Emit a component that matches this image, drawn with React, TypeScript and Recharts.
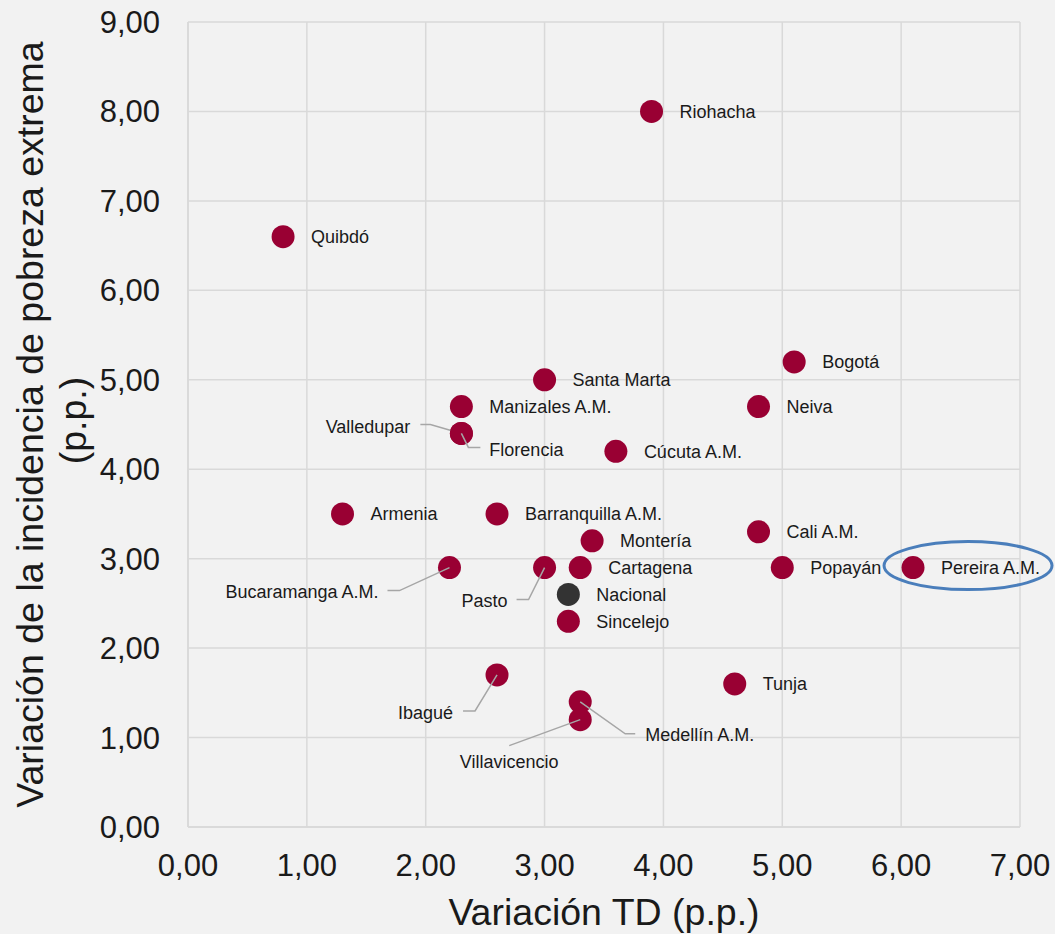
import { ScatterChart, Scatter, XAxis, YAxis, CartesianGrid } from 'recharts';

const cities = [
  'Riohacha', 'Quibdó', 'Bogotá', 'Santa Marta', 'Manizales A.M.', 'Neiva',
  'Valledupar', 'Florencia', 'Cúcuta A.M.', 'Armenia', 'Barranquilla A.M.',
  'Cali A.M.', 'Montería', 'Bucaramanga A.M.', 'Pasto', 'Cartagena', 'Popayán',
  'Pereira A.M.', 'Sincelejo', 'Ibagué', 'Tunja', 'Medellín A.M.', 'Villavicencio',
];
const tdVariation = [3.9, 0.8, 5.1, 3.0, 2.3, 4.8, 2.3, 2.3, 3.6, 1.3, 2.6, 4.8, 3.4, 2.2, 3.0, 3.3, 5.0, 6.1, 3.2, 2.6, 4.6, 3.3, 3.3];
const povertyVariation = [8.0, 6.6, 5.2, 5.0, 4.7, 4.7, 4.4, 4.4, 4.2, 3.5, 3.5, 3.3, 3.2, 2.9, 2.9, 2.9, 2.9, 2.9, 2.3, 1.7, 1.6, 1.4, 1.2];

const nationalName = ['Nacional'];
const nationalTd = [3.2];
const nationalPoverty = [2.6];

const xTicks = [0, 1, 2, 3, 4, 5, 6, 7];
const yTicks = [0, 1, 2, 3, 4, 5, 6, 7, 8, 9];

const cityData = cities.map((name, i) => ({ name, x: tdVariation[i], y: povertyVariation[i] }));
const nationalData = nationalName.map((name, i) => ({ name, x: nationalTd[i], y: nationalPoverty[i] }));

// label placement relative to each point (default: right of the marker)
const labelPlacement = {
  Valledupar: { dx: -51, dy: -7, anchor: 'end', line: [[-41, -9], [-31, -9], [0, 0]] },
  Florencia: { dx: 28, dy: 16, anchor: 'start', line: [[0, 0], [7, 14], [19, 14]] },
  'Bucaramanga A.M.': { dx: -71, dy: 24, anchor: 'end', line: [[-62, 23], [-50, 23], [0, 0]] },
  Pasto: { dx: -37, dy: 33, anchor: 'end', line: [[-28, 32], [-16, 32], [0, 0]] },
  'Ibagué': { dx: -44, dy: 38, anchor: 'end', line: [[-34, 36], [-22, 36], [0, 0]] },
  Villavicencio: { dx: -71, dy: 42, anchor: 'middle', line: [[-71, 26], [0, 0]] },
  'Medellín A.M.': { dx: 65, dy: 33, anchor: 'start', line: [[0, 0], [45, 32], [55, 32]] },
};

const FONT = '"Liberation Sans", Arial, sans-serif';

const makeShape = (fill: string) => (props: any) => {
  const { cx, cy, payload } = props;
  const p = labelPlacement[payload.name] || { dx: 28, dy: 0, anchor: 'start' };
  return (
    <g>
      <circle cx={cx} cy={cy} r={11.5} fill={fill} />
      {p.line && (
        <polyline
          points={p.line.map(([a, b]) => `${cx + a},${cy + b}`).join(' ')}
          fill="none"
          stroke="#a6a6a6"
          strokeWidth={1.5}
        />
      )}
      {payload.name === 'Pereira A.M.' && (
        <ellipse cx={cx + 55} cy={cy - 2} rx={84} ry={24} fill="none" stroke="#4a7ebb" strokeWidth={3} />
      )}
      <text
        x={cx + p.dx}
        y={cy + p.dy}
        dy="0.35em"
        textAnchor={p.anchor}
        fontSize={18}
        fontFamily={FONT}
        fill="#1a1a1a"
      >
        {payload.name}
      </text>
    </g>
  );
};

const fmt = (v: number) => v.toFixed(2).replace('.', ',');

const YTitle = ({ viewBox }: any) => {
  const cy = viewBox.y + viewBox.height / 2;
  return (
    <g fontFamily={FONT} fontSize={37.5} fill="#1a1a1a">
      <text x={43} y={cy} textAnchor="middle" transform={`rotate(-90, 43, ${cy})`}>
        Variación de la incidencia de pobreza extrema
      </text>
      <text x={86} y={cy - 4} textAnchor="middle" transform={`rotate(-90, 86, ${cy - 4})`}>
        (p.p.)
      </text>
    </g>
  );
};

const XTitle = ({ viewBox }: any) => (
  <text
    x={viewBox.x + viewBox.width / 2}
    y={viewBox.y + 98}
    textAnchor="middle"
    fontFamily={FONT}
    fontSize={37.5}
    fill="#1a1a1a"
  >
    Variación TD (p.p.)
  </text>
);

export default function App() {
  return (
    <div style={{ position: 'absolute', left: 0, top: 0, width: 1055, height: 934, background: '#f2f2f2' }}>
      <ScatterChart width={1055} height={934} margin={{ top: 22, right: 35, bottom: 0, left: 0 }}>
        <CartesianGrid stroke="#d9d9d9" strokeWidth={1.5} />
        <XAxis
          type="number"
          dataKey="x"
          domain={[0, 7]}
          ticks={xTicks}
          tickFormatter={fmt}
          height={107}
          axisLine={{ stroke: '#d9d9d9', strokeWidth: 1.5 }}
          tickLine={false}
          tickSize={0}
          tickMargin={27}
          tick={{ fill: '#1a1a1a', fontSize: 31, fontFamily: FONT }}
          label={{ content: XTitle }}
        />
        <YAxis
          type="number"
          dataKey="y"
          domain={[0, 9]}
          ticks={yTicks}
          tickFormatter={fmt}
          width={188}
          axisLine={{ stroke: '#d9d9d9', strokeWidth: 1.5 }}
          tickLine={false}
          tickSize={0}
          tickMargin={28}
          tick={{ fill: '#1a1a1a', fontSize: 31, fontFamily: FONT }}
          label={{ content: YTitle }}
        />
        <Scatter data={cityData} shape={makeShape('#990033')} isAnimationActive={false} />
        <Scatter data={nationalData} shape={makeShape('#333333')} isAnimationActive={false} />
      </ScatterChart>
    </div>
  );
}
